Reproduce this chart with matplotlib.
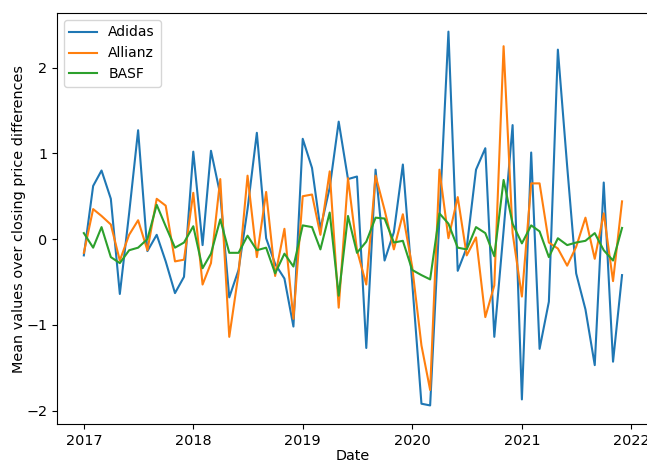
import matplotlib
matplotlib.use("Agg")
import matplotlib.pyplot as plt
import pandas as pd

# Monthly mean of closing price differences, Jan 2017 - Dec 2021
dates = pd.date_range("2017-01-01", periods=60, freq="MS")

adidas = [
    -0.19, 0.62, 0.80, 0.47, -0.64, 0.30, 1.27, -0.14, 0.05, -0.26, -0.63, -0.44,
    1.02, -0.07, 1.03, 0.52, -0.68, -0.36, 0.35, 1.24, 0.01, -0.29, -0.46, -1.02,
    1.17, 0.83, 0.12, 0.60, 1.37, 0.70, 0.73, -1.27, 0.81, -0.25, 0.08, 0.87,
    -0.50, -1.92, -1.94, 0.24, 2.42, -0.37, -0.10, 0.81, 1.06, -1.14, 0.10, 1.33,
    -1.87, 1.01, -1.28, -0.73, 2.21, 0.85, -0.40, -0.82, -1.47, 0.66, -1.43, -0.42,
]
allianz = [
    -0.16, 0.35, 0.27, 0.17, -0.25, 0.05, 0.22, -0.13, 0.47, 0.39, -0.26, -0.24,
    0.54, -0.53, -0.28, 0.70, -1.14, -0.40, 0.74, -0.21, 0.55, -0.43, 0.12, -0.93,
    0.50, 0.52, 0.05, 0.79, -0.80, 0.71, -0.13, -0.53, 0.74, 0.34, -0.12, 0.29,
    -0.32, -1.24, -1.76, 0.81, 0.01, 0.49, -0.19, 0.02, -0.91, -0.54, 2.25, 0.07,
    -0.67, 0.65, 0.65, -0.04, -0.11, -0.31, -0.09, 0.25, -0.23, 0.30, -0.49, 0.44,
]
basf = [
    0.07, -0.10, 0.14, -0.21, -0.28, -0.13, -0.10, 0.00, 0.40, 0.15, -0.10, -0.04,
    0.15, -0.34, -0.17, 0.23, -0.16, -0.16, 0.04, -0.13, -0.10, -0.40, -0.17, -0.32,
    0.16, 0.14, -0.12, 0.31, -0.66, 0.27, -0.16, -0.03, 0.25, 0.24, -0.04, -0.02,
    -0.36, -0.42, -0.47, 0.30, 0.18, -0.10, -0.12, 0.14, 0.07, -0.20, 0.69, 0.18,
    -0.05, 0.16, 0.09, -0.21, 0.01, -0.07, -0.04, -0.02, 0.07, -0.13, -0.25, 0.13,
]

plt.rcParams["font.size"] = 10.4

fig = plt.figure(figsize=(6.47, 4.62), dpi=100)
ax = fig.add_axes([0.088, 0.082, 0.915, 0.89])

ax.plot(dates, adidas, label="Adidas")
ax.plot(dates, allianz, label="Allianz")
ax.plot(dates, basf, label="BASF")

ax.set_xlabel("Date", labelpad=0.5)
ax.set_ylabel("Mean values over closing price differences", labelpad=0)
ax.legend(loc="upper left", fontsize=10)

fig.savefig("out.png", dpi=100)
